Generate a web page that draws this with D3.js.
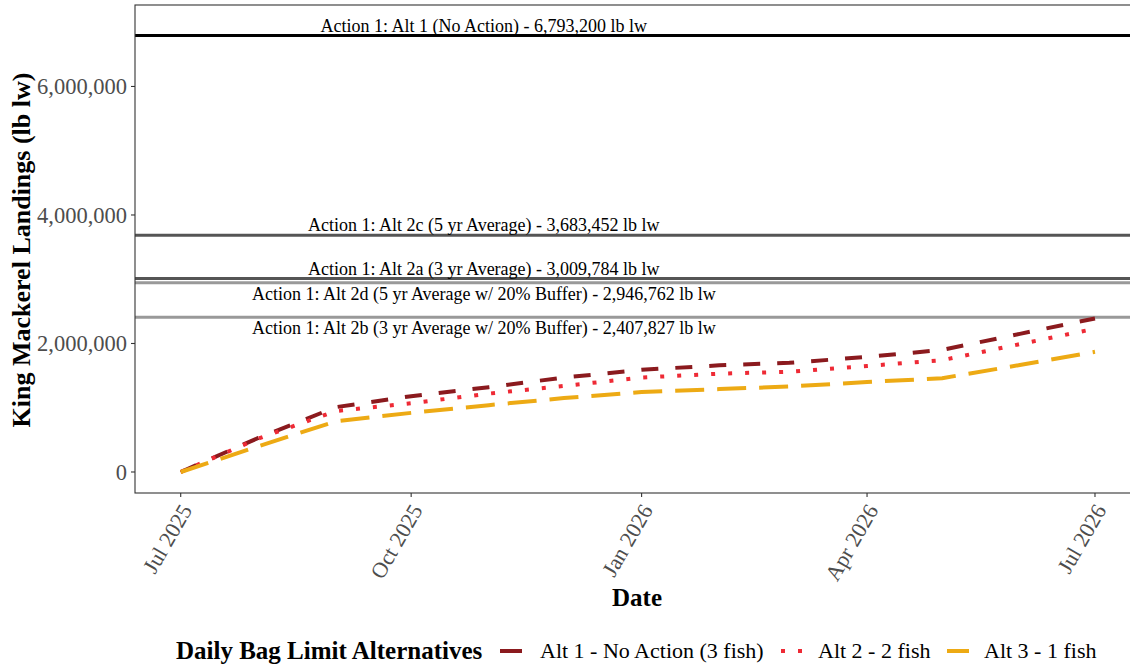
<!DOCTYPE html>
<html>
    <head>
        <meta charset="utf-8">
        <title>King Mackerel Landings</title>
        <style>
            body { margin: 0; background: white; }
            text { font-family: 'Liberation Serif', 'Times New Roman', serif; }
        </style>
        <script src="https://d3js.org/d3.v7.min.js"></script>
        <script>
            // monthly cumulative landings
            var months = ["2025-07-01", "2025-08-01", "2025-09-01", "2025-10-01", "2025-11-01", "2025-12-01",
                          "2026-01-01", "2026-02-01", "2026-03-01", "2026-04-01", "2026-05-01", "2026-06-01", "2026-07-01"];
            var alt1 = [0, 530000, 1010000, 1180000, 1320000, 1470000, 1590000, 1660000, 1700000, 1790000, 1900000, 2150000, 2390000];
            var alt2 = [0, 520000, 950000, 1070000, 1220000, 1340000, 1470000, 1530000, 1560000, 1650000, 1740000, 1990000, 2230000];
            var alt3 = [0, 400000, 790000, 920000, 1040000, 1150000, 1245000, 1290000, 1330000, 1400000, 1460000, 1665000, 1870000];
            var seriesNames = ["Alt 1 - No Action (3 fish)", "Alt 2 - 2 fish", "Alt 3 - 1 fish"];

            // Action 1 reference lines
            var refLabels = ["Action 1: Alt 1 (No Action) - 6,793,200 lb lw",
                             "Action 1: Alt 2c (5 yr Average) - 3,683,452 lb lw",
                             "Action 1: Alt 2a (3 yr Average) - 3,009,784 lb lw",
                             "Action 1: Alt 2d (5 yr Average w/ 20% Buffer) - 2,946,762 lb lw",
                             "Action 1: Alt 2b (3 yr Average w/ 20% Buffer) - 2,407,827 lb lw"];
            var refValues = [6793200, 3683452, 3009784, 2946762, 2407827];

            var yTicks = [0, 2000000, 4000000, 6000000];
            var xTicks = ["2025-07-01", "2025-10-01", "2026-01-01", "2026-04-01", "2026-07-01"];

            var colors = ["#8b1a1e", "#ee2a35", "#edaa14"];
            var dashes = ["17,17", "4,13", "29,13"];
            var refColors = ["#000000", "#555555", "#555555", "#999999", "#999999"];

            function run() {
                var parse = d3.timeParse("%Y-%m-%d");
                var dates = months.map(parse);
                var svg = d3.select("#chart").append("svg")
                    .attr("width", 1130)
                    .attr("height", 665);
                svg.append("rect").attr("width", 1130).attr("height", 665).attr("fill", "white");

                var d0 = dates[0], d1 = dates[dates.length - 1];
                var pad = (d1 - d0) * 0.05;
                var x = d3.scaleTime()
                    .domain([new Date(+d0 - pad), new Date(+d1 + pad)])
                    .range([135, 1140.7]);
                var y = d3.scaleLinear()
                    .domain([-327000, 7268000])
                    .range([493, 5]);

                // clip for the panel
                svg.append("clipPath").attr("id", "panel")
                    .append("rect").attr("x", 135).attr("y", 5).attr("width", 1005.7).attr("height", 488);

                var g = svg.append("g").attr("clip-path", "url(#panel)");

                // reference lines
                g.selectAll(".ref").data(refValues).enter().append("line")
                    .attr("x1", 135).attr("x2", 1141)
                    .attr("y1", d => y(d)).attr("y2", d => y(d))
                    .attr("stroke", (d, i) => refColors[i])
                    .attr("stroke-width", 3);

                var labelX = x(parse("2025-10-30"));
                svg.selectAll(".reflab").data(refLabels).enter().append("text")
                    .attr("x", labelX)
                    .attr("y", (d, i) => i < 3 ? y(refValues[i]) - 4 : y(refValues[i]) + 17)
                    .attr("text-anchor", "middle")
                    .attr("font-size", 18)
                    .attr("fill", "black")
                    .text(d => d);

                // series
                var line = d3.line().x((d, i) => x(dates[i])).y(d => y(d));
                [alt1, alt2, alt3].forEach(function (vals, k) {
                    g.append("path")
                        .attr("d", line(vals))
                        .attr("fill", "none")
                        .attr("stroke", colors[k])
                        .attr("stroke-width", 4)
                        .attr("stroke-dasharray", dashes[k]);
                });

                // panel border
                svg.append("rect")
                    .attr("x", 135).attr("y", 5).attr("width", 1005.7).attr("height", 488)
                    .attr("fill", "none").attr("stroke", "#333333").attr("stroke-width", 1.1);

                // y axis
                var ya = svg.append("g");
                ya.selectAll("line").data(yTicks).enter().append("line")
                    .attr("x1", 131).attr("x2", 135)
                    .attr("y1", d => y(d)).attr("y2", d => y(d))
                    .attr("stroke", "#333333").attr("stroke-width", 1.1);
                ya.selectAll("text").data(yTicks).enter().append("text")
                    .attr("x", 127).attr("y", d => y(d))
                    .attr("dy", "0.35em")
                    .attr("text-anchor", "end")
                    .attr("font-size", 22.5)
                    .attr("fill", "#4d4d4d")
                    .text(d => d3.format(",")(d));

                // x axis
                var xa = svg.append("g");
                xa.selectAll("line").data(xTicks).enter().append("line")
                    .attr("x1", d => x(parse(d))).attr("x2", d => x(parse(d)))
                    .attr("y1", 493).attr("y2", 497)
                    .attr("stroke", "#333333").attr("stroke-width", 1.1);
                xa.selectAll("text").data(xTicks).enter().append("text")
                    .attr("transform", d => "translate(" + (x(parse(d)) + 12) + ",510) rotate(-60)")
                    .attr("text-anchor", "end")
                    .attr("font-size", 22)
                    .attr("fill", "#4d4d4d")
                    .text(d => d3.timeFormat("%b %Y")(parse(d)));

                // axis titles
                svg.append("text")
                    .attr("x", 637).attr("y", 606)
                    .attr("text-anchor", "middle")
                    .attr("font-size", 25).attr("font-weight", "bold")
                    .text("Date");
                svg.append("text")
                    .attr("transform", "translate(30,250) rotate(-90)")
                    .attr("text-anchor", "middle")
                    .attr("font-size", 26).attr("font-weight", "bold")
                    .text("King Mackerel Landings (lb lw)");

                // legend
                var lg = svg.append("g");
                lg.append("text")
                    .attr("x", 176).attr("y", 659)
                    .attr("font-size", 25).attr("font-weight", "bold")
                    .text("Daily Bag Limit Alternatives");
                var keyX = [500, 781, 947];
                var textX = [540, 818, 984];
                seriesNames.forEach(function (name, k) {
                    lg.append("line")
                        .attr("x1", keyX[k]).attr("x2", keyX[k] + 22)
                        .attr("y1", 651).attr("y2", 651)
                        .attr("stroke", colors[k]).attr("stroke-width", 4)
                        .attr("stroke-dasharray", k == 1 ? "4,13" : null);
                    lg.append("text")
                        .attr("x", textX[k]).attr("y", 658)
                        .attr("font-size", 22)
                        .text(name);
                });
            }
        </script>
    </head>
    <body onload="run()">
        <div id="chart"></div>
    </body>
</html>
